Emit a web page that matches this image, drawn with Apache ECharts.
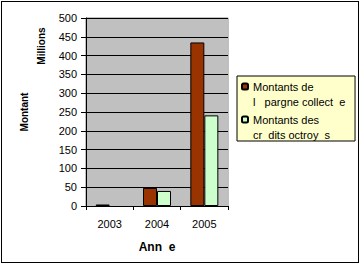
<!DOCTYPE html>
<html>
<head>
<meta charset="utf-8">
<script src="https://cdn.jsdelivr.net/npm/echarts@6/dist/echarts.min.js"></script>
<style>
html,body{margin:0;padding:0;background:#fff;}
#wrap{position:relative;width:360px;height:265px;}
#c{width:360px;height:265px;}
#frame{position:absolute;left:1px;top:1px;width:356px;height:260px;border:1px solid #000;pointer-events:none;}
</style>
</head>
<body>
<div id="wrap"><div id="c"></div><div id="frame"></div></div>
<script>
var categories = ['2003', '2004', '2005'];
var seriesNames = ['Montants de\nl   pargne collect  e', 'Montants des\ncr  dits octroy  s'];
var epargne = [4, 48, 435];
var credits = [null, 40, 241];
var yTicks = [0, 50, 100, 150, 200, 250, 300, 350, 400, 450, 500];
var xTitle = 'Ann  e';
var yTitle = 'Montant';
var unitLabel = 'Millions';

var FONT = '"Liberation Sans", Arial, sans-serif';
var colors = ['#993300', '#CCFFCC'];

function line(name, i) { return name.split('\n')[i]; }

var chart = echarts.init(document.getElementById('c'), null, {renderer: 'svg'});
chart.setOption({
  animation: false,
  textStyle: {fontFamily: FONT},
  grid: {left: 86, top: 18, right: 132, bottom: 59, show: true, backgroundColor: '#C0C0C0', borderColor: '#808080', borderWidth: 1},
  legend: [
    {
      orient: 'vertical', left: 237, top: 76,
      padding: [5, 36, 16, 4],
      itemWidth: 6, itemHeight: 6, itemGap: 22,
      backgroundColor: '#FFFFCC', borderColor: '#000', borderWidth: 1, borderRadius: 0,
      selectedMode: false,
      data: seriesNames,
      formatter: function (n) { return line(n, 0); },
      textStyle: {fontFamily: FONT, fontSize: 11, color: '#000', padding: 0}
    },
    {
      orient: 'vertical', left: 237, top: 91,
      padding: [5, 0, 0, 4],
      itemWidth: 6, itemHeight: 6, itemGap: 22,
      selectedMode: false,
      data: seriesNames,
      itemStyle: {opacity: 0},
      formatter: function (n) { return line(n, 1); },
      textStyle: {fontFamily: FONT, fontSize: 11, color: '#000', padding: 0}
    }
  ],
  xAxis: {
    type: 'category',
    data: categories,
    name: xTitle,
    nameLocation: 'middle',
    nameGap: 35,
    nameTextStyle: {fontFamily: FONT, fontSize: 12, fontWeight: 'bold', color: '#000'},
    axisLine: {lineStyle: {color: '#000', width: 1}},
    axisTick: {show: true, length: 4, lineStyle: {color: '#000'}},
    axisLabel: {fontFamily: FONT, fontSize: 11, color: '#000', margin: 12},
    splitLine: {show: false}
  },
  yAxis: [
    {
      type: 'value',
      min: yTicks[0],
      max: yTicks[yTicks.length - 1],
      interval: yTicks[1] - yTicks[0],
      name: yTitle,
      nameLocation: 'middle',
      nameRotate: 90,
      nameGap: 57,
      nameTextStyle: {fontFamily: FONT, fontSize: 10, fontWeight: 'bold', color: '#000'},
      axisLine: {show: true, lineStyle: {color: '#000', width: 1}},
      axisTick: {show: true, length: 5, lineStyle: {color: '#000'}},
      axisLabel: {fontFamily: FONT, fontSize: 11, color: '#000', margin: 9},
      splitLine: {show: true, lineStyle: {color: '#000', width: 1}},
      splitArea: {show: true, areaStyle: {color: ['#C0C0C0', '#C0C0C0']}}
    },
    {
      type: 'value', position: 'left', min: 0, max: 1,
      name: unitLabel,
      nameLocation: 'middle',
      nameRotate: 90,
      nameGap: 40,
      nameTextStyle: {fontFamily: FONT, fontSize: 10, fontWeight: 'bold', color: '#000', padding: [0, 0, 0, 132]},
      axisLine: {show: false}, axisTick: {show: false}, axisLabel: {show: false}, splitLine: {show: false}
    }
  ],
  series: [
    {name: seriesNames[0], type: 'bar', data: epargne, barWidth: 14, barGap: '0%',
     itemStyle: {color: colors[0], borderColor: '#000', borderWidth: 1}},
    {name: seriesNames[1], type: 'bar', data: credits, barWidth: 14, barGap: '0%',
     itemStyle: {color: colors[1], borderColor: '#000', borderWidth: 1}}
  ]
});
</script>
</body>
</html>
